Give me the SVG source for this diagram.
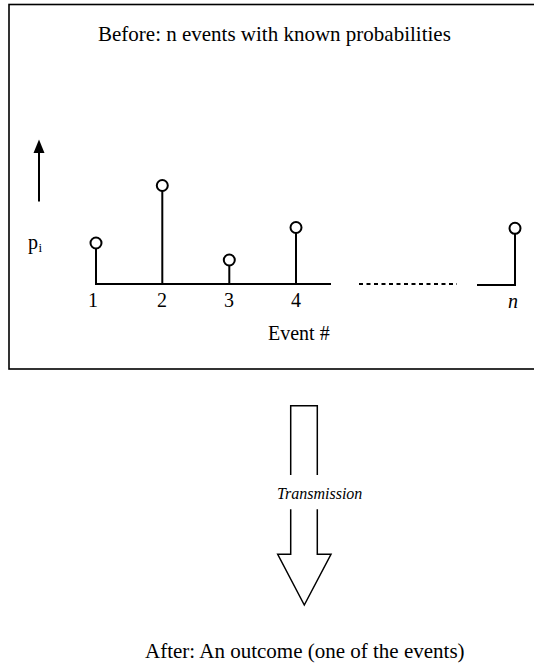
<svg xmlns="http://www.w3.org/2000/svg" width="534" height="665" viewBox="0 0 534 665">
<style>
text{font-family:"Liberation Serif","Times New Roman",serif;fill:#000}
.ln{stroke:#000;stroke-width:2;fill:none}
.pt{stroke:#000;stroke-width:2;fill:#fff}
.it{font-style:italic}
</style>
<rect width="534" height="665" fill="#fff"/>
<g id="before-box">
<rect x="9" y="4.5" width="540" height="364.5" fill="none" stroke="#000" stroke-width="1.6"/>
<text x="98" y="41" font-size="21">Before: n events with known probabilities</text>
</g>
<g id="y-axis">
<line class="ln" x1="39" y1="152" x2="39" y2="201.5"/>
<polygon points="39,139.5 33.5,153 44.5,153" fill="#000"/>
<text x="28" y="249" font-size="20">p</text>
<text x="38.5" y="252" font-size="13">i</text>
</g>
<g id="axis">
<line class="ln" x1="95" y1="284" x2="331" y2="284"/>
<line class="ln" x1="359" y1="284" x2="457" y2="284" stroke-dasharray="4,3.5"/>
<line class="ln" x1="477" y1="285" x2="516" y2="285"/>
<text x="268" y="340" font-size="20">Event #</text>
</g>
<g id="event-1">
<line class="ln" x1="96" y1="249" x2="96" y2="285"/>
<circle class="pt" cx="96" cy="243" r="5.5"/>
<text x="93" y="307" font-size="20" text-anchor="middle">1</text>
</g>
<g id="event-2">
<line class="ln" x1="162.3" y1="191" x2="162.3" y2="285"/>
<circle class="pt" cx="162.3" cy="185.5" r="5.5"/>
<text x="162" y="307" font-size="20" text-anchor="middle">2</text>
</g>
<g id="event-3">
<line class="ln" x1="229.3" y1="265" x2="229.3" y2="285"/>
<circle class="pt" cx="229.3" cy="260" r="5.5"/>
<text x="229" y="307" font-size="20" text-anchor="middle">3</text>
</g>
<g id="event-4">
<line class="ln" x1="296" y1="233" x2="296" y2="285"/>
<circle class="pt" cx="296" cy="227.5" r="5.5"/>
<text x="296" y="307" font-size="20" text-anchor="middle">4</text>
</g>
<g id="event-n">
<line class="ln" x1="515" y1="234" x2="515" y2="286"/>
<circle class="pt" cx="515" cy="228.3" r="5.5"/>
<text class="it" x="513" y="308" font-size="20" text-anchor="middle">n</text>
</g>
<g id="connectors">
<path d="M290.7,475 V405.7 H317.3 V475" fill="none" stroke="#000" stroke-width="1.5"/>
<path d="M290.7,509.3 V554.3 H277.7 L304.3,605 L331,554.3 H317.3 V509.3" fill="none" stroke="#000" stroke-width="1.5" stroke-linejoin="miter"/>
</g>
<g id="transmission-label">
<text class="it" x="277" y="499" font-size="16">Transmission</text>
</g>
<g id="after">
<text x="145" y="658" font-size="21">After: An outcome (one of the events)</text>
</g>
</svg>
